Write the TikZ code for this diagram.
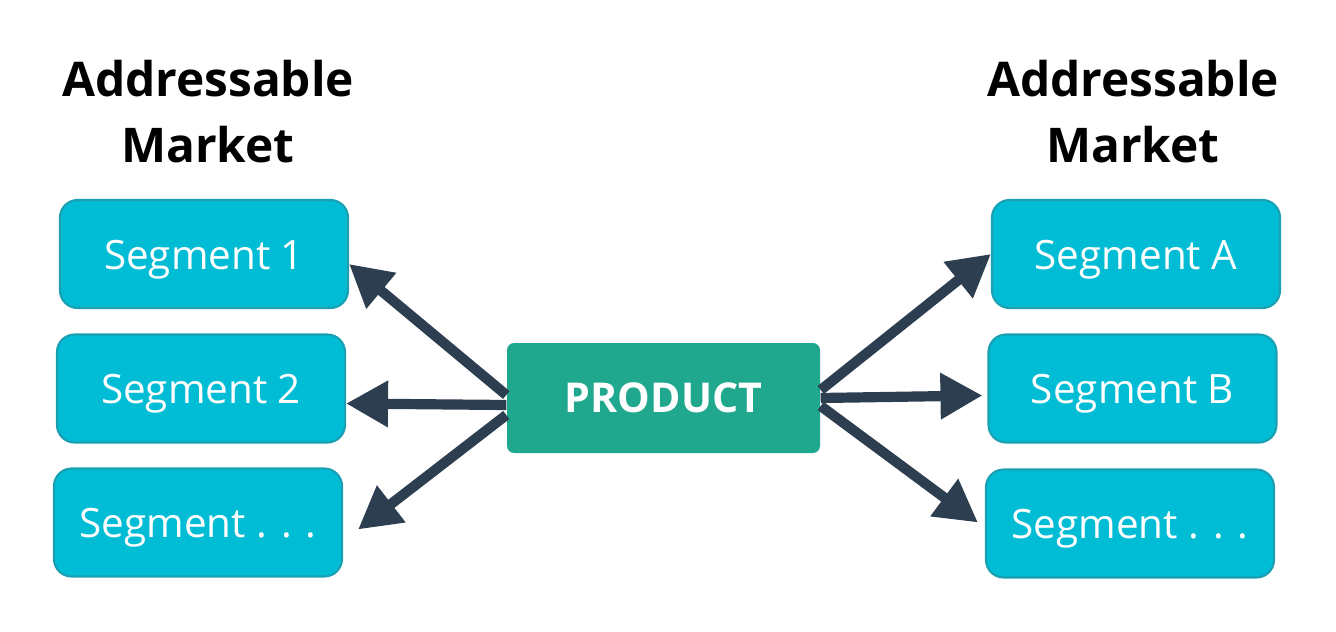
\documentclass[tikz,border=0pt]{standalone}
\usepackage{fontspec}
\setmainfont{Open Sans}
\usepackage{xcolor}
\usetikzlibrary{arrows.meta,positioning,calc}
\definecolor{cian}{HTML}{00BCD4}
\definecolor{cianborde}{HTML}{1A9FB3}
\definecolor{verde}{HTML}{1FA88E}
\definecolor{oscuro}{HTML}{2C3E50}
\tikzset{
  segmento/.style={rectangle, draw=cianborde, fill=cian, line width=0.6pt,
                   minimum width=2.88cm, minimum height=1.08cm,
                   text height=10pt, text depth=1.2pt,
                   align=center, text=white, rounded corners=5pt,
                   font=\fontsize{11.5}{14}\selectfont},
  producto/.style={rectangle, fill=verde, minimum width=3.13cm,
                   minimum height=1.10cm, align=center, text=white,
                   rounded corners=2pt, font=\bfseries\fontsize{11.7}{14}\selectfont},
  titulo/.style={align=center, font=\bfseries\fontsize{13.6}{18.8}\selectfont},
  flecha/.style={-{Triangle[length=4.2mm, width=4.4mm]}, line width=2.9pt, oscuro}
}
\begin{document}
\begin{tikzpicture}
  \useasboundingbox (0,0) rectangle (13.36,-6.32);
  % Mercado izquierdo
  \node[titulo] (t1) at (2.08,-1.12) {Addressable\\Market};
  \node[segmento] (s1) at (2.04,-2.54) {Segment 1};
  \node[segmento] (s2) at (2.01,-3.885) {Segment 2};
  \node[segmento] (s3) at (1.98,-5.225) {Segment . . .};

  % Mercado derecho
  \node[titulo] (t2) at (11.33,-1.12) {Addressable\\Market};
  \node[segmento] (sa) at (11.36,-2.54) {Segment A};
  \node[segmento] (sb) at (11.325,-3.885) {Segment B};
  \node[segmento] (sc) at (11.30,-5.235) {Segment . . .};

  % Producto
  \node[producto] (p) at (6.635,-3.98) {PRODUCT};

  \draw[flecha] ([yshift=0.03cm]p.west) -- ([yshift=-0.1cm]s1.east);
  \draw[flecha] ([yshift=-0.07cm]p.west) -- ([yshift=-0.15cm]s2.east);
  \draw[flecha] ([yshift=-0.17cm]p.west) -- ([xshift=0.15cm,yshift=-0.07cm]s3.east);
  \draw[flecha] ([yshift=0.08cm]p.east) -- (sa.west);
  \draw[flecha] ([yshift=0.0cm]p.east) -- ([xshift=-0.05cm,yshift=-0.07cm]sb.west);
  \draw[flecha] ([yshift=-0.08cm]p.east) -- ([xshift=-0.07cm,yshift=0.01cm]sc.west);
\end{tikzpicture}
\end{document}
